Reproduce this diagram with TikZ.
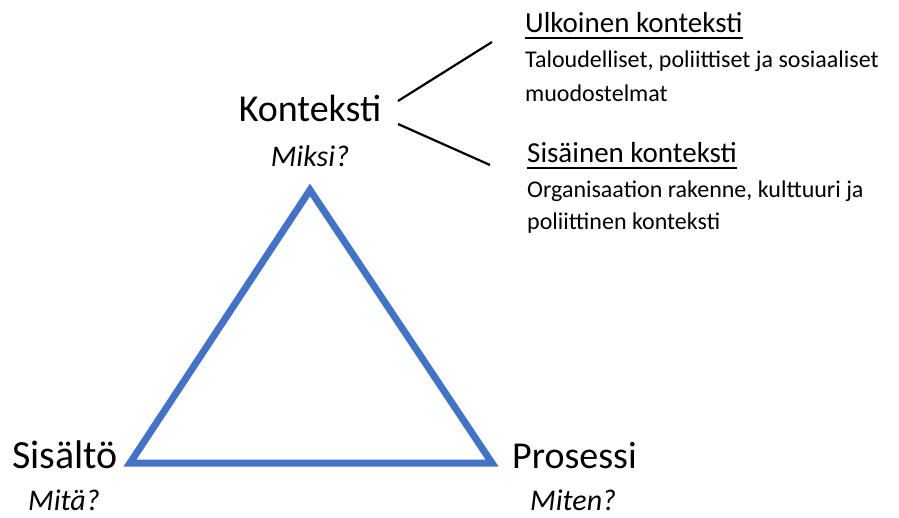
\documentclass[tikz,border=0pt]{standalone}
\usepackage{fontspec}
\setmainfont{Carlito}
\definecolor{triblue}{HTML}{4472C4}
\begin{document}
\begin{tikzpicture}[x=1pt,y=-1pt,
  big/.style={inner sep=0pt,font=\fontsize{38}{40}\selectfont},
  ask/.style={inner sep=0pt,font=\fontsize{30}{32}\selectfont\itshape},
  head/.style={inner sep=0pt,anchor=base west,font=\fontsize{29}{31}\selectfont},
  desc/.style={inner sep=0pt,anchor=base west,font=\fontsize{24}{26}\selectfont},
  tri/.style={draw=triblue,line width=7pt,line join=miter},
  conn/.style={draw=black,line width=2.2pt},
  uline/.style={draw=black,line width=2pt}]
\useasboundingbox (0,0) rectangle (899,518);
\coordinate (A) at (310,190);
\coordinate (B) at (130,463);
\coordinate (C) at (492,463);
\draw[tri] (A) -- (B) -- (C) -- cycle;
\node[big,anchor=base] (kon) at (310,122) {Konteksti};
\node[ask,anchor=base] (miksi) at (310,167) {Miksi?};
\node[big,anchor=base west,font=\fontsize{40}{42}\selectfont] (sis) at (12,468) {Sisältö};
\node[big,anchor=base west] (pro) at (512,468) {Prosessi};
\node[ask,anchor=base west] (mita) at (28,510) {Mitä?};
\node[ask,anchor=base west] (miten) at (530,510) {Miten?};
\node[head] (ulk) at (525,33) {Ulkoinen konteksti};
\draw[uline] ([yshift=-5pt]ulk.base west) -- ([yshift=-5pt]ulk.base east);
\node[desc] (d1) at (525,68) {Taloudelliset, poliittiset ja sosiaaliset};
\node[desc] (d2) at (525,102) {muodostelmat};
\node[head] (sisk) at (527,163) {Sisäinen konteksti};
\draw[uline] ([yshift=-5pt]sisk.base west) -- ([yshift=-5pt]sisk.base east);
\node[desc] (d3) at (527,198) {Organisaation rakenne, kulttuuri ja};
\node[desc] (d4) at (527,230) {poliittinen konteksti};
\coordinate (k1) at (398,101);
\coordinate (k2) at (398,124);
\coordinate (u1) at (492,42);
\coordinate (s1) at (490,165);
\draw[conn] (k1) -- (u1);
\draw[conn] (k2) -- (s1);
\end{tikzpicture}
\end{document}
